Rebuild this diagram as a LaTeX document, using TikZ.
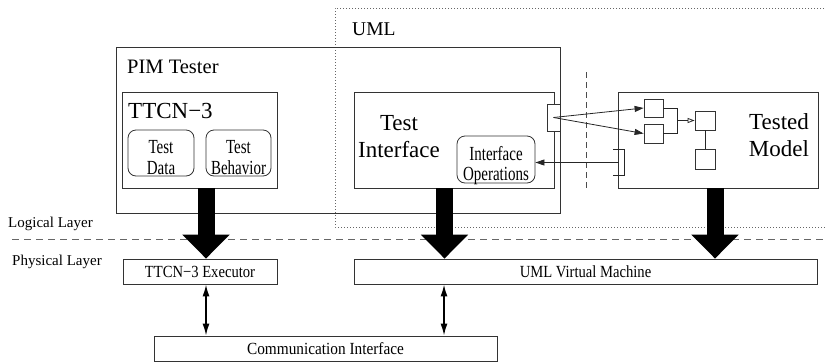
\documentclass[tikz,border=0pt]{standalone}
\usepackage{fontspec}
\setmainfont{Liberation Serif}
\newfontfamily\narrowA[FakeStretch=0.75]{Liberation Serif}
\newfontfamily\narrowB[FakeStretch=0.86]{Liberation Serif}
\usetikzlibrary{arrows.meta}
\begin{document}
\begin{tikzpicture}[x=1pt,y=-1pt,
  box/.style={draw=black!80,line width=0.8pt,rectangle,inner sep=0pt},
  rbox/.style={box,rounded corners=8pt},
  lbl/.style={inner sep=0pt,text=black},
  big/.style={lbl,font=\fontsize{23}{26.5}\selectfont,align=center},
  small/.style={lbl,font=\narrowA\fontsize{20}{21}\selectfont,align=center},
  lower/.style={box,font=\narrowB\fontsize{17}{20}\selectfont},
  layer/.style={lbl,font=\fontsize{15}{18}\selectfont,anchor=base west},
  fatarrow/.style={line width=17pt,-{Triangle[length=24pt 0 0,width=46pt 0 0]}},
  thin/.style={draw=black!85,line width=0.8pt},
  portarrow/.style={thin,-{Triangle[length=9pt 0 0,width=6pt 0 0]}},
  dbl/.style={line width=1.6pt,{Latex[length=12pt 0 0,width=7pt 0 0]}-{Latex[length=12pt 0 0,width=7pt 0 0]}},
]
\useasboundingbox (0,0) rectangle (826,362);
% UML region (dotted)
\coordinate (umlTR) at (830,8);
\coordinate (umlTL) at (335,8);
\coordinate (umlBL) at (335,227);
\coordinate (umlBR) at (830,227);
\draw[black!60,line width=0.8pt,dash pattern=on 1pt off 2pt] (umlTR) -- (umlTL) -- (umlBL) -- (umlBR);
\node[lbl,anchor=base west,font=\fontsize{19.5}{22}\selectfont] (umltxt) at (352,35) {UML};
% layer separator
\coordinate (sepL) at (12,239);
\coordinate (sepR) at (826,239);
\draw[black!60,line width=0.8pt,dash pattern=on 7pt off 5pt] (sepL) -- (sepR);
\node[layer] (logical) at (8,227) {Logical Layer};
\node[layer] (physical) at (12,265) {Physical Layer};
% PIM tester
\node[box,minimum width=444pt,minimum height=166pt] (pim) at (338,130) {};
\node[lbl,anchor=base west,font=\fontsize{20.5}{24}\selectfont] (pimtxt) at (127,73) {PIM Tester};
% TTCN-3
\node[box,minimum width=155pt,minimum height=96pt] (ttcn) at (199.5,140) {};
\node[lbl,anchor=base west,font=\fontsize{23}{26}\selectfont] (ttcntxt) at (128,118) {TTCN−3};
\node[rbox,minimum width=66pt,minimum height=46pt] (tdata) at (161,153) {};
\node[small,anchor=base] (tdatatxt) at (161,174.5) {Test\\Data};
\node[rbox,minimum width=65pt,minimum height=46pt] (tbeh) at (238.5,153) {};
\node[small,anchor=base] (tbehtxt) at (238.5,174.5) {Test\\Behavior};
% Test interface
\node[box,minimum width=200pt,minimum height=96pt] (tif) at (454,140) {};
\node[big,anchor=base] (tiftxt) at (399,157) {Test\\Interface};
\node[rbox,minimum width=78pt,minimum height=47pt] (ifops) at (496,159.5) {};
\node[small,anchor=base,font=\narrowA\fontsize{20}{20}\selectfont] (ifopstxt) at (496,180) {Interface\\Operations};
\node[box,fill=white,minimum width=13pt,minimum height=27pt] (port1) at (553.5,117.5) {};
% vertical dashed separator
\coordinate (vsT) at (586,72);
\coordinate (vsB) at (586,188);
\draw[black!70,line width=0.8pt,dash pattern=on 6pt off 4pt] (vsT) -- (vsB);
% Tested model
\node[box,minimum width=200pt,minimum height=96pt] (tm) at (718,140) {};
\node[big,anchor=base,font=\fontsize{23}{27}\selectfont] (tmtxt) at (779,156) {Tested\\Model};
\node[box,minimum width=19pt,minimum height=18pt] (b1) at (653.5,108) {};
\node[box,minimum width=19pt,minimum height=19pt] (b2) at (653.5,133.5) {};
\node[box,minimum width=20pt,minimum height=19pt] (b3) at (705,120.5) {};
\node[box,minimum width=20pt,minimum height=20pt] (b4) at (705,159) {};
\coordinate (junc) at (677,120.5);
\draw[thin] (b1.east) -| (junc) |- (b2.east);
\draw[thin,-{Triangle[open,length=7pt 0 0,width=5pt 0 0]}] (junc) -- (b3.west);
\draw[thin] (b3.south) -- (b4.north);
\node[inner sep=0pt,minimum width=11pt,minimum height=25pt] (port2) at (618.5,162.5) {};
\draw[thin] (port2.north west) -- (port2.north east) -- (port2.south east) -- (port2.south west);
% port connectors
\draw[portarrow] (port1.center) -- (b1.west);
\draw[portarrow] (port1.center) -- (b2.west);
\draw[portarrow] (port2.center) -- (port2.center -| ifops.east);
% physical layer
\node[lower,minimum width=154pt,minimum height=25pt] (exec) at (200,271.5) {TTCN−3 Executor};
\node[lower,minimum width=463pt,minimum height=25pt] (uvm) at (585.5,271.5) {UML Virtual Machine};
\node[lower,font=\addfontfeatures{FakeStretch=0.9}\fontsize{17}{20}\selectfont,minimum width=343pt,minimum height=25pt] (comm) at (325.5,348.5) {Communication Interface};
% fat arrows
\draw[fatarrow] ([xshift=6.5pt]ttcn.south) -- ([xshift=6.5pt]ttcn.south |- exec.north);
\draw[fatarrow] ([xshift=-9.5pt]tif.south) -- ([xshift=-9.5pt]tif.south |- uvm.north);
\draw[fatarrow] ([xshift=-3pt]tm.south) -- ([xshift=-3pt]tm.south |- uvm.north);
% double arrows
\draw[dbl] ([xshift=6pt]exec.south) -- ([xshift=6pt]exec.south |- comm.north);
\draw[dbl] ([xshift=-141.5pt]uvm.south) -- ([xshift=-141.5pt]uvm.south |- comm.north);
\end{tikzpicture}
\end{document}
